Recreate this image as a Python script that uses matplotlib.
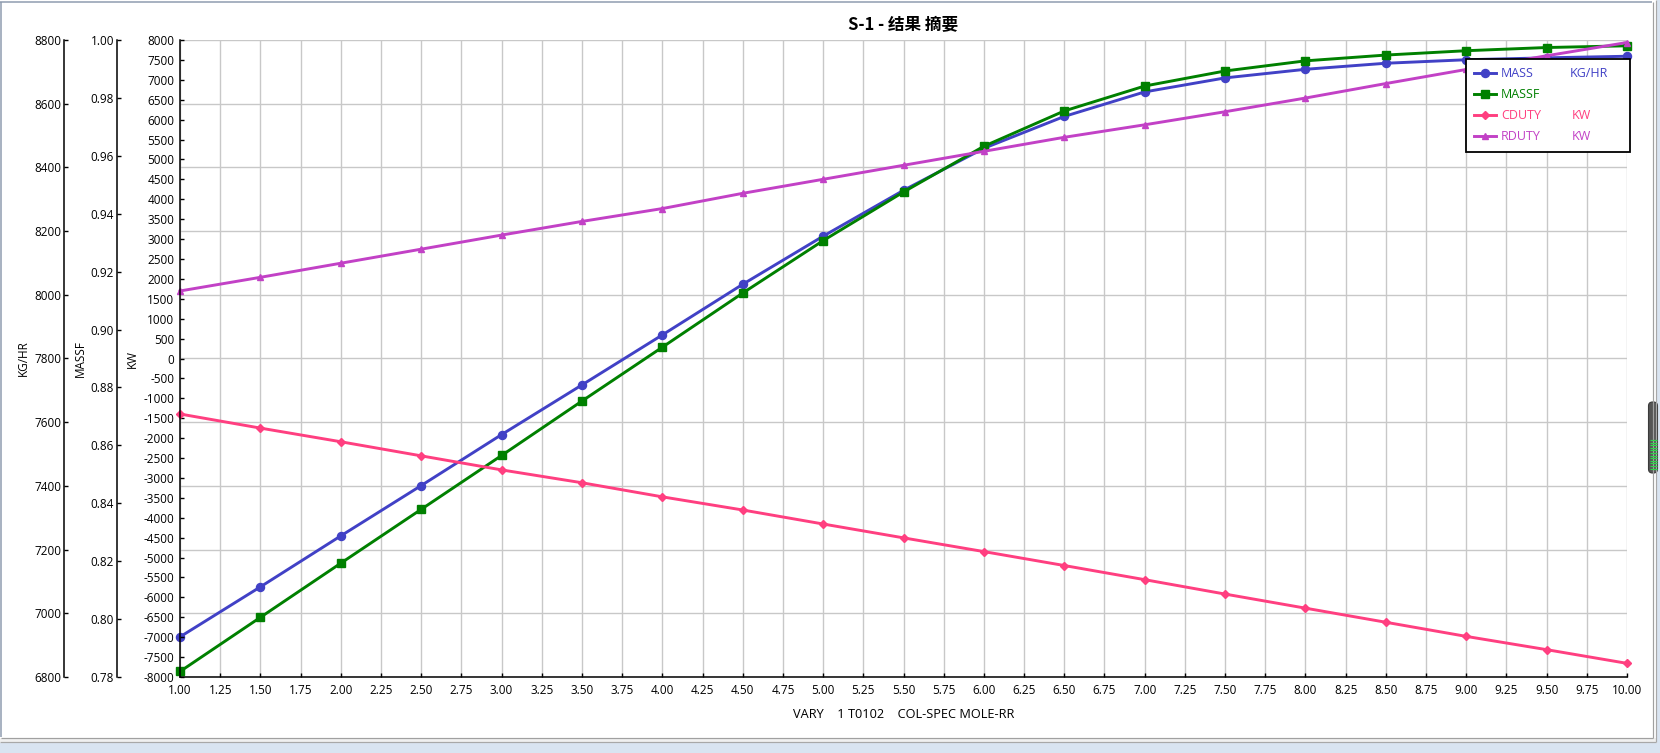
import matplotlib
matplotlib.use("Agg")
import matplotlib.pyplot as plt
import numpy as np
from matplotlib.lines import Line2D
from matplotlib.patches import Rectangle, FancyBboxPatch
from matplotlib.transforms import IdentityTransform
from matplotlib.ticker import FormatStrFormatter, MultipleLocator

plt.rcParams['font.family'] = ['Open Sans', 'Noto Sans CJK SC', 'DejaVu Sans']
plt.rcParams['axes.unicode_minus'] = False

# ---------------- data ----------------
rr = [1.0, 1.5, 2.0, 2.5, 3.0, 3.5, 4.0, 4.5, 5.0, 5.5,
      6.0, 6.5, 7.0, 7.5, 8.0, 8.5, 9.0, 9.5, 10.0]
mass_kghr = [6926, 7083, 7243, 7401, 7561, 7717, 7874, 8033, 8184, 8328,
             8460, 8560, 8637, 8681, 8708, 8727, 8738, 8744, 8749]
massf = [0.7819, 0.8006, 0.8193, 0.8379, 0.8565, 0.8753, 0.8939, 0.9126, 0.9307, 0.9475,
         0.9633, 0.9755, 0.9841, 0.9893, 0.9928, 0.9948, 0.9963, 0.9974, 0.9980]
cduty_kw = [-1394, -1748, -2091, -2445, -2798, -3121, -3475, -3805, -4157, -4505,
            -4850, -5200, -5555, -5917, -6271, -6625, -6980, -7313, -7657]
rduty_kw = [1696, 2039, 2393, 2746, 3100, 3443, 3766, 4149, 4501, 4853,
            5204, 5556, 5870, 6198, 6542, 6906, 7260, 7604, 7937]

series_names = ['MASS', 'MASSF', 'CDUTY', 'RDUTY']
series_units = ['KG/HR', '', 'KW', 'KW']
title = 'S-1 - 结果 摘要'
xlabel = 'VARY    1 T0102    COL-SPEC MOLE-RR'

C_MASS = '#4141C6'
C_MASSF = '#008000'
C_CDUTY = '#FF3F80'
C_RDUTY = '#C241C6'

# ---------------- layout ----------------
W, H = 1660, 753
L, R, T, B = 180, 1627, 40, 677
fig = plt.figure(figsize=(W / 100, H / 100), dpi=100)
fig.patch.set_facecolor('white')
rect = [L / W, 1 - B / H, (R - L) / W, (B - T) / H]

host = fig.add_axes(rect)          # KG/HR
ax_m = host.twinx()                # MASSF
ax_kw = host.twinx()               # KW

tick_kw = dict(direction='in', length=3, width=1, labelsize=8.5, colors='black')

for a in (host, ax_m, ax_kw):
    a.spines['top'].set_visible(False)
    a.spines['right'].set_visible(False)
for a in (ax_m, ax_kw):
    a.spines['bottom'].set_visible(False)
    a.yaxis.set_ticks_position('left')
    a.yaxis.set_label_position('left')
    a.spines['left'].set_visible(True)
    a.patch.set_visible(False)

host.spines['left'].set_position(('axes', (64 - L) / (R - L)))
ax_m.spines['left'].set_position(('axes', (117 - L) / (R - L)))
ax_kw.spines['left'].set_position(('axes', 0.0))
for a in (host, ax_m, ax_kw):
    a.spines['left'].set_linewidth(1.1)
host.spines['bottom'].set_linewidth(1.1)

# limits & ticks
host.set_xlim(1.0, 10.0)
host.xaxis.set_major_locator(MultipleLocator(0.25))
host.xaxis.set_major_formatter(FormatStrFormatter('%.2f'))
host.tick_params(axis='x', pad=5, **tick_kw)

host.set_ylim(6800, 8800)
host.yaxis.set_major_locator(MultipleLocator(200))
host.yaxis.set_major_formatter(FormatStrFormatter('%d'))
host.tick_params(axis='y', pad=2, **tick_kw)

ax_m.set_ylim(0.78, 1.00)
ax_m.yaxis.set_major_locator(MultipleLocator(0.02))
ax_m.yaxis.set_major_formatter(FormatStrFormatter('%.2f'))
ax_m.tick_params(axis='y', pad=2, **tick_kw)

ax_kw.set_ylim(-8000, 8000)
ax_kw.yaxis.set_major_locator(MultipleLocator(500))
ax_kw.yaxis.set_major_formatter(FormatStrFormatter('%d'))
ax_kw.tick_params(axis='y', pad=4, **tick_kw)

host.grid(True, color='#C8C8C8', linewidth=1.0)
host.set_axisbelow(True)

lw = 2.1
l1, = host.plot(rr, mass_kghr, color=C_MASS, lw=lw, marker='o', ms=5.8,
                mec=C_MASS, mfc=C_MASS, clip_on=False)
l2, = ax_m.plot(rr, massf, color=C_MASSF, lw=lw, marker='s', ms=5.4,
                mec=C_MASSF, mfc=C_MASSF, clip_on=False)
l3, = ax_kw.plot(rr, cduty_kw, color=C_CDUTY, lw=lw, marker='D', ms=4.0,
                 mec=C_CDUTY, mfc=C_CDUTY, clip_on=False)
l4, = ax_kw.plot(rr, rduty_kw, color=C_RDUTY, lw=lw, marker='^', ms=4.5,
                 mec=C_RDUTY, mfc=C_RDUTY, clip_on=False)

# titles / labels
fig.text((L + R) / 2 / W, 1 - 25 / H, title, ha='center', va='center',
         fontsize=12, fontweight='bold', family=['Noto Sans CJK SC', 'DejaVu Sans'])
fig.text((L + R) / 2 / W, 1 - 714 / H, xlabel, ha='center', va='center', fontsize=9.2)
for txt, xp in (('KG/HR', 23), ('MASSF', 80), ('KW', 132)):
    fig.text(xp / W, 1 - (T + B) / 2 / H, txt, rotation=90, ha='center',
             va='center', fontsize=8.5)

# legend
x0 = (1466 - L) / (R - L)
x1 = (1630 - L) / (R - L)
y1 = (B - 59) / (B - T)
y0 = (B - 149) / (B - T)
lines = [l1, l2, l3, l4]
colors = [C_MASS, C_MASSF, C_CDUTY, C_RDUTY]
leg = ax_kw.legend(lines, series_names, loc='upper left',
                   bbox_to_anchor=(x0, y0, x1 - x0, y1 - y0), mode='expand',
                   borderaxespad=0, fontsize=9, handlelength=1.7,
                   handletextpad=0.45, labelspacing=0.64, borderpad=0.66,
                   numpoints=1, fancybox=False, framealpha=1, edgecolor='black')
leg.get_frame().set_linewidth(1.3)
leg.set_zorder(10)
for t, c in zip(leg.get_texts(), colors):
    t.set_color(c)

fig.canvas.draw()
for t, c, u in zip(leg.get_texts(), colors, series_units):
    if not u:
        continue
    bb = t.get_window_extent()
    yc = (bb.y0 + bb.y1) / 2
    xu = 1570 if u == 'KG/HR' else 1572
    fig.text(xu / W, yc / H, u, color=c, fontsize=9, ha='left', va='center', zorder=20)

# ---------------- window chrome ----------------
ident = IdentityTransform()


def hline(y, xa, xb, color, lwp=1.0):
    fig.add_artist(Line2D([xa, xb], [H - y, H - y], transform=ident, color=color,
                          lw=lwp * 0.72, solid_capstyle='butt'))


def vline(x, ya, yb, color, lwp=1.0):
    fig.add_artist(Line2D([x, x], [H - ya, H - yb], transform=ident, color=color,
                          lw=lwp * 0.72, solid_capstyle='butt'))


fig.add_artist(Rectangle((0, 0), W, H - 743, transform=ident, color='#D9E4F1', lw=0))
fig.add_artist(Rectangle((1657, 0), 3, H, transform=ident, color='#D9E4F1', lw=0))
fig.add_artist(Rectangle((0, H - 742), 1657, 4, transform=ident, color='#F0F0F0', lw=0))
hline(2, 0, 1652, '#8D9AAE', 1.5)
vline(1, 2, 737, '#8D9AAE', 1.5)
vline(1652.5, 2, 737.5, '#A0A0A0', 1.2)
hline(737.5, 1, 1652.5, '#A0A0A0', 1.2)
vline(1656, 0, 742, '#A8A8A8', 1.2)
hline(742, 0, 1656, '#A8A8A8', 1.2)

sb = FancyBboxPatch((1648.5, H - 473), 9, 71, boxstyle='round,pad=0,rounding_size=4',
                    transform=ident, facecolor='#555555', edgecolor='#3A3A3A', lw=0.8)
fig.add_artist(sb)
for yy in np.arange(440, 471, 2.6):
    hline(yy, 1650, 1657, '#2FD34A', 1.2)

fig.savefig('out.png', dpi=100)
